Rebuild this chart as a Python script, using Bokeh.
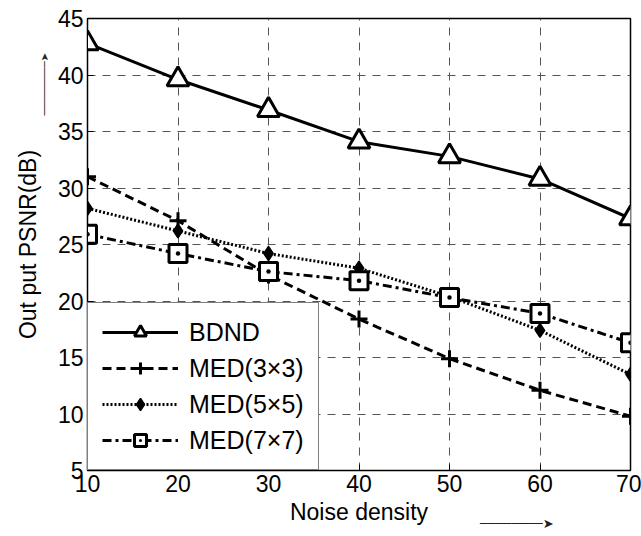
import math
from bokeh.plotting import figure
from bokeh.models import Legend, LegendItem, Label, FixedTicker
from bokeh.embed import file_html
from bokeh.resources import INLINE

noise = [10, 20, 30, 40, 50, 60, 70]
bdnd = [42.8, 39.6, 36.9, 34.1, 32.8, 30.8, 27.3]
med3 = [31.0, 27.1, 22.3, 18.4, 14.9, 12.1, 9.8]
med5 = [28.2, 26.2, 24.2, 22.9, 20.4, 17.4, 13.5]
med7 = [25.9, 24.2, 22.6, 21.8, 20.3, 18.9, 16.3]
x_ticks = [10, 20, 30, 40, 50, 60, 70]
y_ticks = [5, 10, 15, 20, 25, 30, 35, 40, 45]

FONT = "Liberation Sans"
W, H = 641, 536

p = figure(width=W, height=H, output_backend="svg", toolbar_location=None,
           x_range=(10, 70), y_range=(5, 45),
           min_border_left=85, min_border_right=11, min_border_top=18, min_border_bottom=66)
p.background_fill_color = "white"
p.border_fill_color = "white"
p.outline_line_color = "black"
p.outline_line_width = 1.5

for ax in (p.xaxis[0], p.yaxis[0]):
    ax.major_label_text_font = FONT
    ax.major_label_text_font_size = "23px"
    ax.major_label_text_color = "black"
    ax.axis_label_text_font = FONT
    ax.axis_label_text_font_size = "23px"
    ax.axis_label_text_font_style = "normal"
    ax.axis_label_text_color = "black"
    ax.major_tick_in = 6
    ax.major_tick_out = 0
    ax.minor_tick_in = 0
    ax.minor_tick_out = 0
    ax.axis_line_color = "black"
    ax.major_tick_line_color = "black"
    ax.major_label_standoff = 4

p.xaxis[0].ticker = FixedTicker(ticks=x_ticks)
p.yaxis[0].ticker = FixedTicker(ticks=y_ticks)
p.xaxis[0].axis_label = "Noise density"
p.yaxis[0].axis_label = "Out put PSNR(dB)"
p.xaxis[0].axis_label_standoff = 4
p.yaxis[0].axis_label_standoff = 14

p.xgrid.ticker = FixedTicker(ticks=x_ticks)
p.ygrid.ticker = FixedTicker(ticks=y_ticks)
for g in (p.xgrid[0], p.ygrid[0]):
    g.grid_line_color = "#555555"
    g.grid_line_dash = "8 7"
    g.grid_line_width = 1

lw = 3
r1l = p.line(noise, bdnd, line_color="black", line_width=lw)
r1m = p.scatter(noise, bdnd, marker="triangle", size=22, line_color="black",
                fill_color="white", line_width=3)
r2l = p.line(noise, med3, line_color="black", line_width=lw, line_dash="9 5")
r2m = p.scatter(noise, med3, marker="cross", size=17, line_color="black", line_width=3)
r3l = p.line(noise, med5, line_color="black", line_width=lw, line_dash="2 2")
r3m = p.scatter(noise, med5, marker="diamond", size=14, line_color="black",
                fill_color="black", line_width=1.5)
r4l = p.line(noise, med7, line_color="black", line_width=lw, line_dash="9 4 3 4")
r4m = p.scatter(noise, med7, marker="square_dot", size=18, line_color="black",
                fill_color="white", line_width=3)

legend = Legend(items=[
    LegendItem(label="BDND", renderers=[r1l, r1m]),
    LegendItem(label="MED(3\u00d73)", renderers=[r2l, r2m]),
    LegendItem(label="MED(5\u00d75)", renderers=[r3l, r3m]),
    LegendItem(label="MED(7\u00d77)", renderers=[r4l, r4m]),
], location=(0, 0))
legend.label_text_font = FONT
legend.label_text_font_size = "25px"
legend.label_text_color = "black"
legend.glyph_width = 76
legend.glyph_height = 30
legend.label_height = 30
legend.label_standoff = 11
legend.spacing = 6
legend.padding = 14
legend.margin = 0
legend.border_line_color = "black"
legend.border_line_width = 1.5
legend.background_fill_color = "white"
legend.background_fill_alpha = 1
p.add_layout(legend, "center")

# decorative arrows beside the axis labels; each is one small label kept in a
# side panel with spare room (so it is not clipped and does not move the frame)
SHAFT = "\u2500"
HEAD = "\u27a4"
p.add_layout(Label(x=5.27, y=41.95, text=SHAFT * 9 + HEAD, angle=math.pi / 2,
                   text_align="right", text_baseline="middle", text_font="DejaVu Sans",
                   text_font_size="10px", text_color="#222222"), "left")
p.add_layout(Label(x=61.5, y=0.31, text=SHAFT * 8 + HEAD, angle=0,
                   text_align="right", text_baseline="middle", text_font="DejaVu Sans",
                   text_font_size="13px", text_color="#222222"), "above")

open("out.html", "w").write(file_html(p, INLINE))
